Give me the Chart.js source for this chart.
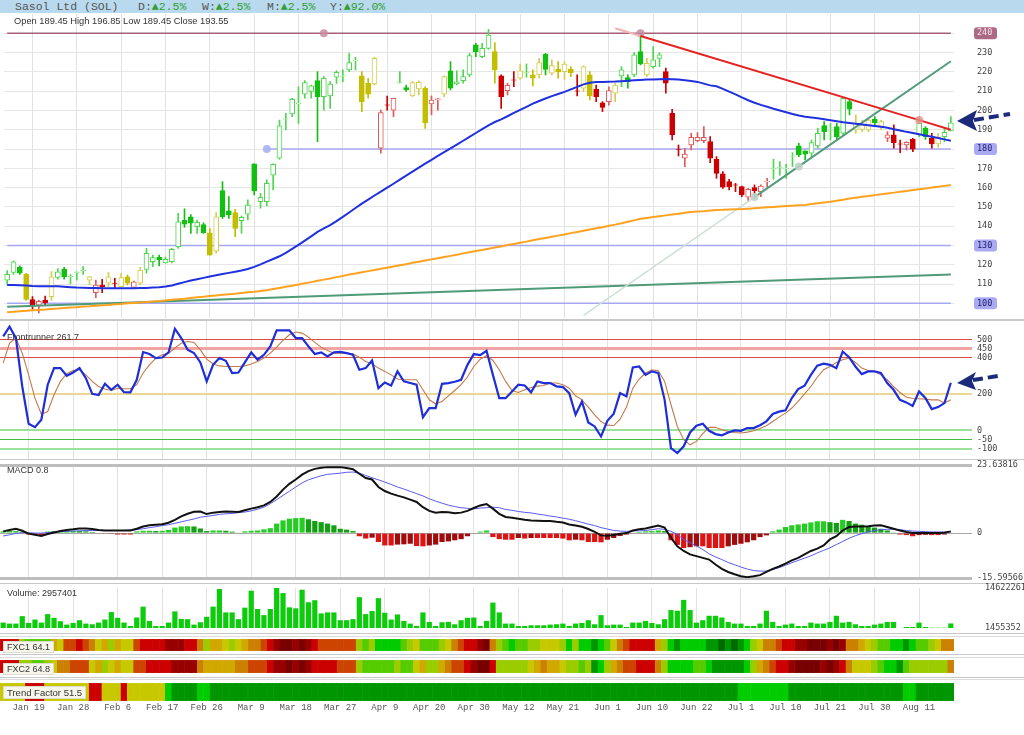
<!DOCTYPE html>
<html><head><meta charset="utf-8"><title>Sasol Ltd (SOL)</title>
<script src="https://cdn.jsdelivr.net/npm/chart.js@4.4.1/dist/chart.umd.min.js"></script>
<style>
html,body{margin:0;padding:0;background:#fff}
#wrap{position:relative;width:1024px;height:735px;overflow:hidden;font-family:"Liberation Sans",Arial,sans-serif}
#wrap canvas{position:absolute;left:0;top:0}
.hdr{position:absolute;left:0;top:0;width:1024px;height:13px;background:#b9d9ef}
.ht{position:absolute;top:0;font:11.5px/13px "Liberation Mono","DejaVu Sans Mono",monospace;color:#555;white-space:pre}
.up{color:#2f9f2f}
.lbl{position:absolute;font:9px/11px "Liberation Sans",Arial,sans-serif;color:#333;white-space:nowrap}
.box{background:#f6f6ea;border:1px solid #dcdcd0;padding:0 3px;line-height:10px}
.sep{position:absolute;left:0;width:1024px;background:#c8c8c8}
</style></head>
<body><div id="wrap">
<div class="hdr"></div>
<span class="ht" style="left:15px">Sasol Ltd (SOL)</span>
<span class="ht" style="left:138px">D:<span class="up">▲2.5%</span></span>
<span class="ht" style="left:202px">W:<span class="up">▲2.5%</span></span>
<span class="ht" style="left:267px">M:<span class="up">▲2.5%</span></span>
<span class="ht" style="left:330px">Y:<span class="up">▲92.0%</span></span>
<div class="sep" style="top:319px;height:2px"></div>
<div class="sep" style="top:459px;height:1px"></div>
<div class="sep" style="top:583px;height:1px"></div>
<div class="sep" style="top:633px;height:1px"></div>
<div class="sep" style="top:636px;height:1px;background:#dcdcdc"></div>
<div class="sep" style="top:654px;height:1px"></div>
<div class="sep" style="top:657px;height:1px;background:#dcdcdc"></div>
<div class="sep" style="top:677px;height:1px"></div>
<div class="sep" style="top:679px;height:1px;background:#dcdcdc"></div>
<canvas id="cPrice"></canvas>
<canvas id="cFR"></canvas>
<canvas id="cMACD"></canvas>
<canvas id="cVol"></canvas>
<canvas id="cF1"></canvas>
<canvas id="cF2"></canvas>
<canvas id="cTF"></canvas>
<div class="lbl" style="left:14px;top:16px;font-size:9.3px">Open 189.45 High 196.85 Low 189.45 Close 193.55</div>
<div class="lbl" style="left:7px;top:332px">Frontrunner 261.7</div>
<div class="lbl" style="left:7px;top:465px">MACD 0.8</div>
<div class="lbl" style="left:7px;top:588px">Volume: 2957401</div>
<div class="lbl box" style="left:3px;top:641px">FXC1 64.1</div>
<div class="lbl box" style="left:3px;top:663px">FXC2 64.8</div>
<div class="lbl box" style="left:3px;top:686px;font-size:9.5px;line-height:11px">Trend Factor 51.5</div>
<svg width="1024" height="735" style="position:absolute;left:0;top:0">
 <g fill="#1b2a7a"><path d="M957,121 L977,110 L973,121 L977,131 Z"/><path d="M957,383 L976,372 L972,381 L976,390 Z"/></g>
 <g stroke="#1b2a7a" stroke-width="4" stroke-dasharray="10 5" fill="none"><line x1="974" y1="120" x2="1010" y2="114"/><line x1="973" y1="380" x2="998" y2="376"/></g>
</svg>
</div>
<script>
// ---------- categories ----------
const dates = ['Jan 13','Jan 14','Jan 15','Jan 16','Jan 19','Jan 20','Jan 21','Jan 22','Jan 23','Jan 26',
'Jan 27','Jan 28','Jan 29','Jan 30','Feb 2','Feb 3','Feb 4','Feb 5','Feb 6','Feb 9',
'Feb 10','Feb 11','Feb 12','Feb 13','Feb 16','Feb 17','Feb 18','Feb 19','Feb 20','Feb 23',
'Feb 24','Feb 25','Feb 26','Feb 27','Mar 2','Mar 3','Mar 4','Mar 5','Mar 6','Mar 9',
'Mar 10','Mar 11','Mar 12','Mar 13','Mar 16','Mar 17','Mar 18','Mar 19','Mar 20','Mar 23',
'Mar 24','Mar 25','Mar 26','Mar 27','Mar 30','Mar 31','Apr 1','Apr 2','Apr 7','Apr 8',
'Apr 9','Apr 10','Apr 13','Apr 14','Apr 15','Apr 16','Apr 17','Apr 20','Apr 21','Apr 22',
'Apr 23','Apr 24','Apr 28','Apr 29','Apr 30','May 4','May 5','May 6','May 7','May 8',
'May 11','May 12','May 13','May 14','May 15','May 18','May 19','May 20','May 21','May 22',
'May 25','May 26','May 27','May 28','May 29','Jun 1','Jun 2','Jun 3','Jun 4','Jun 5',
'Jun 8','Jun 9','Jun 10','Jun 11','Jun 12','Jun 15','Jun 17','Jun 18','Jun 19','Jun 22',
'Jun 23','Jun 24','Jun 25','Jun 26','Jun 29','Jun 30','Jul 1','Jul 2','Jul 3','Jul 6',
'Jul 7','Jul 8','Jul 9','Jul 10','Jul 13','Jul 14','Jul 15','Jul 16','Jul 17','Jul 20',
'Jul 21','Jul 22','Jul 23','Jul 24','Jul 27','Jul 28','Jul 29','Jul 30','Jul 31','Aug 3',
'Aug 4','Aug 5','Aug 6','Aug 7','Aug 11','Aug 12','Aug 13','Aug 14','Aug 17','Aug 18'];
const tickLabels = ['Jan 19','Jan 28','Feb 6','Feb 17','Feb 26','Mar 9','Mar 18','Mar 27','Apr 9','Apr 20','Apr 30','May 12','May 21','Jun 1','Jun 10','Jun 22','Jul 1','Jul 10','Jul 21','Jul 30','Aug 11'];

// ---------- price ----------
const openP = [112,116,118.7,115,102,99,101.7,103.5,113.5,117.6,
113.8,116,117,112,105.5,109.5,110.4,110.5,108.7,113.8,
108.3,110.4,117.6,121.6,123.9,121,121.6,129.4,143.2,144.9,
139.8,140.8,136.6,127.1,158.4,148,147,142.9,146.2,172.3,
152.7,152.7,166.5,175.2,195.5,198.2,203.5,208.5,209.8,215.5,
207.2,207.5,217.2,217.8,221,225.7,217.9,214.1,213.7,180.4,
202.9,200.2,214.5,211.8,207.5,211.1,211.5,203.4,205.4,208.5,
220.6,213.7,215.5,218.4,234,227.9,232.2,230.5,217.9,210.3,
215.9,216.7,219.7,218.4,218.4,229.1,219.3,221.5,220.1,221.5,
210.2,211.5,218.4,211.1,204,204.6,208.9,217.9,217,218.4,
230.5,218.4,222.7,227,220.1,198.5,180,175.2,182.1,184.3,
184.3,183.8,174.7,167.1,163.1,161.5,160.5,155,160,157.9,
163,170,170.2,169.9,175.9,181.6,179,177.8,181.6,192.1,
189.8,191.6,188.2,204.6,189.9,190.2,189.9,195.4,191.3,185.6,
187.3,182.7,182.1,185,187.3,190.7,185.6,182.6,186.4,189.45];
const highP = [117,122,119.5,115.5,103.5,101.5,103.8,116.5,118,118.7,
115,116.4,119,114,112,112.5,116,113,115.5,114.7,
111.5,118.7,128.5,125,125,124,128.5,146.7,149,146,
143.2,141.8,138.8,147,163.1,155.3,148.7,145.3,153.6,172.3,
157,164,172.3,195,198.5,206.3,212.3,215.5,213.2,220.1,
217.5,215,220.6,221,229.6,227.6,220.1,216.7,227.6,200.2,
207.5,206.3,220.1,213.2,215,215.3,212.3,207.5,206.3,217.9,
225.3,220.6,221,229.6,234.8,234.8,242,235.2,218.4,214.1,
220.1,224.1,224.1,221,227,229.6,226.2,225.3,225.3,222.7,
218.4,223.1,220.1,213.2,204.6,212.3,214.1,222.7,218.4,230,
239.1,227,233.1,230,221.9,200.6,182.1,180.4,188.2,188.5,
191.6,186.4,176.1,168.3,164.3,162.2,160.8,159.6,161.4,161.4,
164.8,174.7,173.5,172.1,178.1,183,179,184.7,190.7,194.2,
193.3,193.3,206.8,205.4,197.7,195,195.9,196.8,195,189,
192.5,184.7,183.8,185.6,196.8,191.6,188.2,188.2,190.7,196.85];
const lowP = [110,115,115,101.5,97,95,99,101.5,112.5,112.5,
110,112,115,109.5,103,105.5,108.7,108,108.5,109.5,
107.8,109.5,115.6,119,119.4,120.8,121,128.5,139.4,136.3,
136.3,136.3,125,126,144,144,134.6,136.3,143.2,156.2,
149.3,150.5,158.8,174.7,189.9,196.8,193.3,206.3,206.3,183.8,
200.2,201,214,214.9,220.1,221,199.4,206.3,213.2,177.8,
200.2,196.8,214.1,209.8,207.2,208,190.7,197.7,200.2,207.2,
210.6,213.2,214.1,217.5,227.9,227.4,231.7,214.1,201.1,208,
212.3,216.1,217.2,212.7,216.7,218.4,218.4,216.7,216.1,217.5,
207.5,209.8,205.4,204.6,199.4,202.8,204.6,212.3,211.5,217.5,
223.6,217.5,221.9,222.7,208.9,184.7,176.4,170.9,179.5,183.8,
183.3,172.9,164.8,159.6,158.8,157.9,155.3,153.2,154.4,155.3,
160.2,164.3,166.5,164.8,170.9,176.1,174.3,176.1,180.4,184.7,
184.7,184.7,187.3,197.7,188.2,189,189,191.6,189.9,183.8,
180.4,178.1,179.5,178.6,186.4,185,180.4,180.9,183.8,189.45];
const closeP = [115,121.5,115.6,102,99,101,100.3,113.8,116.4,113.8,
114,116.2,117.3,113.8,109.5,108.7,113.8,110.3,113.3,110.4,
111.2,117.3,125.9,123.7,122.5,122.8,128,142.3,141.1,141.5,
142,136.6,125,144.9,144.9,145.8,138.9,144.6,151,158.3,
155,162.2,172.1,192,195.6,205.8,203.8,214.4,212.7,207.2,
216.7,213.7,219.8,218,224.8,225.9,204.6,208.5,227,198.9,
202.7,206.3,214.7,210.6,214.4,214.6,193.7,205.4,206,217.5,
211.5,214.9,217.5,228.4,230.5,232.2,239.1,221,207.2,213,
215.7,220.6,219.9,216.7,224.8,221.3,223.2,220.1,224.1,219.6,
210,222.7,207.5,207.2,201.6,210.3,213.2,221,214.9,228.8,
224.1,224.4,226.2,228.8,214.1,187.3,179.8,177.4,186.1,186.1,
186.1,175.2,167.4,160.2,160.5,161.3,156.2,159.1,158.4,160.8,
163.2,170.1,170.4,170.1,176.1,176.9,177.3,183.3,188.2,189,
190,186.4,206.3,200.6,193.3,192.5,195,193.7,194.2,187.3,
183.3,182.5,183.5,179.9,193.3,186.4,182.6,186.1,188.7,193.55];
// candle signal state per bar: G bullish, R bearish, Y neutral
const candleTone = 'GGGYRRRYGG'+'GGGYRRYRYY'+'RYGGGGGGGG'+'GGYYGGYGGG'+'GGGGGGGGGG'+'GGGGGGYYYR'+'RRGGYYYRRY'+'GGGGGGGYRR'+'RYGYYGYYYY'+'RYYRRRYGGG'+'GYGGRRRRRR'+'RRRRRRRRRR'+'RGGGGGGGGG'+'GGGGYYYGYR'+'RRRRGGRYGG';
const maBlue = [109.5,109.5,109.4,109.3,109.0,108.9,108.8,108.8,108.8,108.6,
108.4,108.2,108.1,108.0,107.9,107.8,107.8,107.8,107.8,107.8,
107.8,107.9,108.0,108.2,108.4,108.7,109.3,110.2,111.0,111.8,
112.5,113.2,113.9,114.6,115.2,115.8,116.4,117.0,117.8,118.9,
120.2,121.6,123.0,124.4,126.2,128.2,130.3,132.5,134.7,137.0,
138.8,140.6,142.6,144.8,147.1,149.4,151.7,153.8,155.9,157.9,
160.0,162.0,164.1,166.2,168.3,170.4,172.4,174.4,176.4,178.4,
180.3,182.3,184.3,186.3,188.3,190.3,192.3,194.0,195.4,197.0,
198.7,200.3,201.9,203.5,204.9,206.2,207.4,208.5,209.6,210.9,
212.2,213.5,214.4,214.7,214.8,214.9,215.0,215.2,215.4,215.6,
215.8,216.0,216.1,216.2,216.3,216.2,216.0,215.7,215.3,214.8,
213.9,213.0,212.5,211.2,209.8,208.3,206.8,205.3,204.0,202.9,
201.9,200.9,200.0,199.1,198.2,197.4,196.7,196.3,195.9,195.4,
194.9,194.4,193.9,193.5,193.1,192.7,192.3,191.9,191.5,191.0,
190.3,189.6,188.9,188.3,187.7,187.0,186.4,185.7,185.0,184.3];
const maOrange = [95.4,95.6,95.9,96.1,96.4,96.6,96.8,97.1,97.3,97.6,
97.8,98.0,98.3,98.5,98.8,99.0,99.2,99.5,99.7,100.0,
100.2,100.4,100.7,100.9,101.2,101.5,101.8,102.1,102.4,102.8,
103.1,103.4,103.8,104.1,104.4,104.7,105.0,105.4,105.7,106.0,
106.4,106.8,107.4,108.0,108.6,109.1,109.8,110.4,111.0,111.7,
112.3,112.9,113.6,114.2,114.9,115.5,116.1,116.7,117.3,117.9,
118.5,119.1,119.7,120.3,121.0,121.6,122.2,122.8,123.4,124.0,
124.6,125.2,125.9,126.5,127.1,127.7,128.3,128.9,129.5,130.2,
130.8,131.4,132.0,132.7,133.3,133.9,134.5,135.1,135.7,136.4,
137.0,137.6,138.3,138.9,139.5,140.2,140.8,141.5,142.3,143.0,
143.8,144.3,144.8,145.2,145.6,146.0,146.4,147.0,147.3,147.6,
147.8,148.1,148.4,148.5,148.7,148.8,148.9,149.1,149.3,149.5,
149.8,150.0,150.2,150.4,150.6,150.8,151.0,151.5,151.9,152.3,
152.7,153.2,153.7,154.3,154.8,155.2,155.6,156.1,156.5,157.0,
157.4,157.9,158.3,158.7,159.1,159.5,160.0,160.5,160.9,161.3];
const priceTicks = [100,110,120,130,140,150,160,170,180,190,200,210,220,230,240];
const pillValues = [240,180,130,100];
// drawn lines: [date, value] anchor points
const level240 = [['Jan 13',240],['Mar 24',240],['Jun 8',240],['Aug 18',240]];
const level180 = [['Mar 11',180],['Aug 18',180]];
const level130 = [['Jan 13',130],['Aug 18',130]];
const level100 = [['Jan 13',100],['Aug 18',100]];
const resistFaint = [['Jun 2',242.6],['Jun 8',238.6]];
const resistLine = [['Jun 8',238.6],['Aug 11',195.0],['Aug 18',190.0]];
const supportFaint = [['May 26',93.8],['Jul 3',155.1]];
const supportLine = [['Jul 3',155.1],['Jul 14',171.0],['Aug 18',225.5]];
const longTrend = [['Jan 13',98.2],['Aug 18',115.0]];
const anchorDates240 = ['Mar 24','Jun 8'];
const anchorDates180 = ['Mar 11'];
const anchorDatesResist = ['Aug 11'];
const anchorDatesSupport = ['Jul 3','Jul 14'];

// ---------- frontrunner ----------
const frLine = [516,570,506,241,37,18,59,251,342,342,
300,318,342,287,201,194,256,223,251,210,
209,278,430,419,397,400,428,558,507,443,
425,373,269,360,397,382,315,318,373,428,
388,415,461,549,549,549,507,507,461,419,
428,406,428,431,424,415,333,342,384,232,
263,247,324,269,260,251,73,123,123,256,
260,267,278,360,419,413,437,305,177,177,
214,251,247,209,269,260,260,242,238,205,
86,159,44,22,-33,53,92,205,187,346,
351,305,324,315,168,-97,-124,-87,-11,26,
37,-2,-20,-27,-11,0,-2,13,13,29,
50,90,103,110,178,227,245,305,355,366,
360,342,433,402,351,309,324,324,315,260,
223,168,154,135,214,178,117,128,150,261.7];
const frSignal = [369,479,506,424,305,177,89,104,196,269,
311,329,333,305,269,241,227,219,231,229,
229,251,315,360,397,415,424,452,479,488,
483,442,391,365,354,351,351,351,354,365,
378,397,424,457,494,525,540,534,512,483,
457,439,424,424,424,419,402,378,364,342,
324,305,282,278,278,278,223,168,146,159,
190,219,251,293,351,391,410,384,333,269,
219,208,223,236,243,247,260,260,251,232,
190,168,128,86,49,29,27,62,128,232,
282,315,333,327,269,141,22,-51,-79,-60,
-18,17,17,4,-5,-11,-14,-9,-2,11,
26,49,73,95,123,159,201,241,292,333,
351,373,388,397,373,342,329,324,305,278,
241,208,183,175,174,172,168,168,150,168];
const frLevels = [-100,-50,0,200,400,450,500];

// ---------- MACD ----------
const macdLine = [0.6,1.1,1.5,0.8,-0.2,-0.6,-1.0,-0.3,0.2,0.7,
1.1,1.3,1.6,1.6,1.4,1.1,0.9,0.9,0.9,0.9,
0.9,1.5,2.3,2.7,2.9,3.1,3.6,4.6,5.8,6.7,
7.4,7.5,6.6,7.1,7.3,7.5,7.4,7.3,7.9,8.5,
9.0,9.6,10.8,12.7,15.1,17.1,18.6,20.3,21.5,22.3,
22.7,22.9,22.9,22.9,22.6,22.2,20.6,19.1,18.6,16.0,
14.6,13.7,13.0,12.4,11.6,10.8,9.0,7.7,7.1,7.3,
7.2,6.9,7.1,7.7,8.7,9.6,10.1,8.5,6.7,5.6,
5.3,5.0,4.6,4.4,4.3,4.2,4.2,3.9,3.7,3.0,
2.6,2.2,1.4,0.4,-0.8,-0.9,-0.7,-0.2,0.0,0.9,
1.3,1.6,2.1,2.6,1.9,-1.6,-4.6,-6.2,-7.4,-8.0,
-8.6,-9.2,-10.9,-12.4,-13.5,-14.3,-15.0,-15.3,-15.0,-14.6,
-13.5,-12.4,-11.6,-10.6,-9.5,-8.6,-7.4,-6.2,-5.4,-4.3,
-2.2,-1.1,0.9,2.1,2.3,2.3,2.4,2.6,2.7,2.1,
1.5,0.9,0.4,0.0,0.0,0.0,0.0,0.0,0.1,0.6];
const macdSignal = [-1.0,-0.6,-0.1,0.1,0.1,0.0,0.0,0.2,0.4,0.5,
0.6,0.7,0.8,0.9,0.9,0.9,0.9,0.9,0.9,0.9,
1.1,1.2,1.5,1.9,2.2,2.6,2.9,3.4,3.9,4.4,
4.9,5.5,5.8,6.1,6.5,6.7,6.8,7.1,7.3,7.7,
8.3,9.0,10.2,11.6,13.1,14.5,16.0,17.4,18.5,19.2,
19.9,20.4,20.6,20.8,21.1,21.2,20.8,20.0,19.2,18.5,
17.7,16.9,16.0,15.3,14.5,13.7,12.9,11.9,11.1,10.4,
9.7,9.2,8.8,8.6,8.4,8.7,8.8,9.0,8.8,8.2,
7.9,7.5,7.2,7.0,6.6,6.3,5.9,5.6,5.2,4.8,
4.3,3.7,3.1,2.6,1.9,1.4,0.9,0.7,0.6,0.7,
0.8,0.9,1.2,1.5,1.3,0.6,-0.5,-2.2,-3.3,-4.5,
-5.7,-7.2,-8.3,-9.2,-10.2,-11.0,-11.8,-12.5,-13.0,-13.2,
-13.2,-12.7,-12.0,-11.2,-10.3,-9.5,-8.7,-7.9,-6.9,-6.0,
-5.1,-4.0,-2.9,-1.8,-0.9,-0.2,0.4,0.9,1.2,1.3,
1.3,1.2,0.9,0.7,0.6,0.5,0.4,0.4,0.4,0.4];
const macdHist = [0.6,0.7,0.7,0.4,-0.5,-0.7,-0.9,0.5,0.7,0.7,
0.8,0.8,0.7,0.6,0.4,-0.2,-0.2,-0.3,-0.5,-0.5,
-0.5,0.6,0.8,0.8,0.7,0.8,1.1,1.9,2.3,2.4,
2.3,1.6,0.7,0.9,0.9,0.8,0.5,0.2,0.6,0.8,
0.9,1.3,1.7,3.3,4.4,5.0,5.2,5.3,4.8,4.2,
3.8,3.3,2.7,1.5,1.2,0.7,-1.1,-1.9,-1.6,-3.1,
-4.3,-4.3,-4.0,-3.9,-3.7,-4.5,-4.6,-4.3,-4.0,-3.1,
-2.9,-2.5,-2.1,-1.1,-0.2,0.5,0.9,-1.4,-2.1,-2.3,
-2.3,-1.7,-1.9,-1.7,-1.7,-1.7,-1.7,-1.7,-1.9,-2.5,
-2.3,-2.5,-3.1,-3.1,-3.2,-2.3,-1.7,-1.0,-0.5,-0.2,
0.4,0.6,0.7,0.9,0.7,-2.5,-4.1,-5.2,-4.9,-4.6,
-4.6,-5.2,-5.2,-5.2,-4.6,-4.1,-3.7,-3.2,-2.5,-1.4,
-0.8,0.6,1.2,2.1,2.7,3.0,3.3,3.7,4.1,4.1,
3.8,3.5,4.6,4.2,3.3,2.9,2.4,1.9,1.5,0.9,
0.1,-0.5,-0.7,-1.1,-0.7,-0.6,-0.7,-0.7,-0.5,0.2];
const macdTicks = [-15.59566,0,23.63816];

// ---------- volume ----------
const volume = [3240000,2906000,2906000,5360000,3129000,4245000,3240000,6030000,4802000,3687000,
2571000,3129000,4021000,2906000,2682000,3240000,4245000,6699000,4802000,3240000,
2124000,4914000,8485000,3798000,2124000,2124000,3240000,6922000,4468000,4356000,
2571000,3352000,5137000,8485000,14287000,6588000,6588000,4356000,8150000,13729000,
7703000,5695000,7703000,14622261,12948000,8261000,7927000,14064000,9935000,10605000,
6253000,6588000,6588000,4021000,4021000,4356000,11609000,6030000,7034000,11274000,
6476000,4245000,5918000,3798000,2906000,2124000,6588000,3463000,2124000,3352000,
3463000,2682000,4021000,4802000,4914000,2124000,3798000,9824000,6588000,2906000,
2906000,2124000,2124000,2348000,2348000,2348000,2571000,2682000,2906000,2124000,
2906000,3129000,4021000,2682000,5695000,2348000,2571000,2571000,1790000,3240000,
3240000,3798000,3129000,2682000,4356000,7369000,7146000,10716000,7369000,3240000,
4021000,5472000,5472000,4914000,3463000,2906000,2906000,2124000,2124000,2906000,
7146000,3463000,2124000,2571000,2906000,2124000,2124000,3240000,2906000,2906000,
3463000,5472000,3240000,3463000,2682000,2124000,2124000,2571000,2906000,3463000,
3463000,1455000,1790000,1790000,3240000,1790000,1567000,1567000,1567000,2957401];
const volTicks = [1455352,14622261];

// ---------- heat strips (0 = strongest bearish ... 11 = strongest bullish) ----------
const fxc1 = [2,2,2,7,8,8,8,8,5,6, 3,3,2,3,4,6,5,7,5,6, 6,3,2,2,2,2,1,1,1,2, 2,4,7,5,5,6,7,6,5,4,
4,3,2,1,0,0,1,0,1,2, 3,3,3,3,3,3,7,8,7,9, 9,9,9,8,7,6,8,8,8,7, 6,4,3,2,2,1,0,4,7,8,
9,8,8,7,7,6,6,6,7,9, 7,9,9,10,9,8,6,4,3,2, 2,2,2,5,7,9,10,9,9,9, 9,10,10,11,10,11,10,9,7,6,
4,4,3,2,2,1,1,0,0,0, 1,0,1,4,4,5,6,7,8,8, 9,9,10,9,8,8,7,6,4,4];
const fxc2 = [2,2,2,7,7,8,8,7,6,4, 4,3,3,3,6,5,7,6,5,6, 6,3,3,2,2,2,2,1,1,1, 1,4,5,5,5,5,5,4,4,3,
3,3,2,1,1,0,1,0,1,2, 2,2,2,3,3,3,7,8,8,8, 8,8,7,8,8,6,5,7,7,5, 4,3,3,2,1,0,0,2,7,7,
7,7,7,6,5,4,5,5,6,7, 7,8,7,10,9,7,5,4,3,3, 2,2,2,4,7,9,9,9,9,8, 8,9,10,10,10,10,10,9,7,5,
4,3,2,2,1,0,0,0,0,1, 0,1,2,4,6,6,6,7,8,9, 9,10,8,7,7,7,7,7,7,4];
const trendFactor = [6,6,6,6,2,2,2,6,6,6, 6,6,6,6,2,2,6,6,6,2, 6,6,6,6,6,6,9,10,10,10, 10,9,9,10,10,10,10,10,10,10,
10,10,10,10,10,10,10,10,10,10, 10,10,10,10,10,10,10,10,10,10, 10,10,10,10,10,10,10,10,10,10, 10,10,10,10,10,10,10,10,10,10,
10,10,10,10,10,10,10,10,10,10, 10,10,10,10,10,10,10,10,10,10, 10,10,10,10,10,10,10,10,10,10, 10,10,10,10,10,10,9,9,9,9,
9,9,9,9,10,10,10,10,10,10, 10,10,10,10,10,10,10,10,10,10, 10,10,9,9,10,10,10,10,10,10];

// ================= rendering =================
Chart.defaults.animation = false;
Chart.defaults.responsive = false;
Chart.defaults.maintainAspectRatio = false;
Chart.defaults.events = [];
Chart.defaults.plugins.legend.display = false;
Chart.defaults.plugins.tooltip.enabled = false;

const W = 1024, H = 735;
const tickSet = new Set(tickLabels);
const axisFont = {family:'"DejaVu Sans Mono", monospace', size:8.5};
function cv(id){ const c = document.getElementById(id); c.width = W; c.height = H; return c; }
function zeroPad(s){ s.paddingLeft = 0; s.paddingRight = 0; s.paddingTop = 0; s.paddingBottom = 0; }
function xAxis(show){
  return {type:'category', offset:true, display:true, border:{display:false},
    grid:{offset:false, drawTicks:false, lineWidth:1,
      color: c => tickSet.has(dates[c.index]) ? '#e2e2e2' : 'rgba(0,0,0,0)'},
    ticks:{display:show, autoSkip:false, maxRotation:0, minRotation:0, padding:1,
      font:{family:'"Liberation Mono", monospace', size:9}, color:'#555',
      callback:(v,i) => tickSet.has(dates[i]) ? dates[i] : ''},
    afterFit(s){ s.height = show ? 22 : 0; zeroPad(s); }};
}
function yFit(s){ s.width = 70; zeroPad(s); }
function layout(top, bottom){ return {padding:{top:top, bottom:H-bottom, left:0, right:0}}; }
function pts(list){ return list.map(p => ({x:p[0], y:p[1]})); }
function lineDS(list, color, width, anchors, anchorColor, order){
  return {type:'line', data:pts(list), borderColor:color, borderWidth:width, order:order,
    pointRadius: c => (anchors && c.raw && anchors.includes(c.raw.x)) ? 4 : 0,
    pointBackgroundColor:anchorColor, pointBorderWidth:0, tension:0};
}

// ---- price panel ----
const toneFill = {G:'#12c012', R:'#cc0000', Y:'#c4be00'};
const toneLine = {G:'#4fd64f', R:'#e05a5a', Y:'#d2cc50'};
const isFilled = dates.map((d,i) => closeP[i] < openP[i]);
const tones = candleTone.split('');
new Chart(cv('cPrice'), {
  type:'bar',
  data:{labels:dates, datasets:[
    {type:'line', data:maBlue, borderColor:'#2030e0', borderWidth:2, pointRadius:0, order:0},
    {type:'line', data:maOrange, borderColor:'#ffa21f', borderWidth:2, pointRadius:0, order:0},
    lineDS(resistLine, '#e42222', 2, anchorDatesResist, 'rgba(236,140,140,0.8)', 0),
    lineDS(resistFaint, '#f3b3b3', 2, null, null, 0),
    lineDS(supportLine, '#529c7c', 2, anchorDatesSupport, 'rgba(190,210,200,0.9)', 0),
    lineDS(supportFaint, '#cde0d5', 1.5, null, null, 0),
    lineDS(longTrend, '#4f9a78', 2, null, null, 0),
    lineDS(level240, '#a8607c', 1.5, anchorDates240, 'rgba(200,140,160,0.85)', 3),
    lineDS(level180, '#a8a8f2', 1.5, anchorDates180, 'rgba(170,176,244,0.9)', 3),
    lineDS(level130, '#a8a8f2', 1.5, null, null, 3),
    lineDS(level100, '#a8a8f2', 1.5, null, null, 3),
    {type:'bar', grouped:false, order:1, barThickness:5, borderWidth:1, borderSkipped:false,
      data: dates.map((d,i) => [openP[i], closeP[i]]),
      backgroundColor: dates.map((d,i) => isFilled[i] ? toneFill[tones[i]] : '#ffffff'),
      borderColor: dates.map((d,i) => isFilled[i] ? toneFill[tones[i]] : toneLine[tones[i]])},
    {type:'bar', grouped:false, order:2, barThickness:1, borderWidth:0,
      data: dates.map((d,i) => [lowP[i], highP[i]]),
      backgroundColor: dates.map((d,i) => isFilled[i] ? toneFill[tones[i]] : toneLine[tones[i]])}
  ]},
  options:{layout:layout(14,318), scales:{
    x:xAxis(false),
    y:{position:'right', min:92.4, max:250, border:{display:false},
      afterBuildTicks(s){ s.ticks = priceTicks.map(v => ({value:v})); },
      grid:{color:'#e6e6e6', drawTicks:false},
      ticks:{padding:23, font:axisFont,
        color: c => c.tick.value === 240 ? '#f6e2ea' : (pillValues.includes(c.tick.value) ? '#1c1c70' : '#444'),
        callback: v => String(v)},
      afterFit:yFit}
  }},
  plugins:[{id:'pills', beforeDraw(chart){
    const y = chart.scales.y, ctx = chart.ctx;
    pillValues.forEach(v => {
      const py = y.getPixelForValue(v);
      ctx.save();
      ctx.fillStyle = v === 240 ? '#ad6a84' : '#aaaaf2';
      ctx.beginPath();
      ctx.roundRect(974, py - 6, 23, 12, 3);
      ctx.fill();
      ctx.restore();
    });
  }}]
});

// ---- frontrunner panel ----
const frStyle = {'500':['#dd4848',1], '450':['#f2a4a4',3], '400':['#dd4848',1], '200':['#ead894',2], '0':['#9ae29a',2], '-50':['#44bb44',1], '-100':['#9ae29a',2]};
new Chart(cv('cFR'), {
  type:'line',
  data:{labels:dates, datasets:[
    {data:frLine, borderColor:'#1e2ed8', borderWidth:2.2, pointRadius:0, order:0},
    {data:frSignal, borderColor:'#c27a4c', borderWidth:1.1, pointRadius:0, order:1}
  ]},
  options:{layout:layout(321,459), scales:{
    x:xAxis(false),
    y:{position:'right', min:-156.6, max:600.4, border:{display:false},
      afterBuildTicks(s){ s.ticks = frLevels.map(v => ({value:v})); },
      grid:{drawTicks:true, tickLength:18,
        color: c => (frStyle[String(c.tick.value)] || ['#ddd'])[0],
        lineWidth: c => (frStyle[String(c.tick.value)] || [0,1])[1]},
      ticks:{padding:5, font:axisFont, color:'#444', callback: v => String(v)},
      afterFit:yFit}
  }}
});

// ---- MACD panel ----
const histColors = macdHist.map((v,i) => {
  const p = i ? macdHist[i-1] : v;
  if (v >= 0) return v >= p ? '#24cc24' : '#13a013';
  return v <= p ? '#dd1414' : '#a00c0c';
});
new Chart(cv('cMACD'), {
  type:'bar',
  data:{labels:dates, datasets:[
    {type:'line', data:macdLine, borderColor:'#111111', borderWidth:2, pointRadius:0, order:0},
    {type:'line', data:macdSignal, borderColor:'#5a5af0', borderWidth:1, pointRadius:0, order:1},
    {type:'bar', data:macdHist, backgroundColor:histColors, barPercentage:0.82, categoryPercentage:1, order:2}
  ]},
  options:{layout:layout(465,578), scales:{
    x:xAxis(false),
    y:{position:'right', min:macdTicks[0], max:macdTicks[2], border:{display:false},
      afterBuildTicks(s){ s.ticks = macdTicks.map(v => ({value:v})); },
      grid:{drawTicks:true, tickLength:18,
        color: c => c.tick.value === 0 ? '#a8a8a8' : '#bdbdbd',
        lineWidth: c => c.tick.value === 0 ? 1 : 3},
      ticks:{padding:5, font:axisFont, color:'#444', callback: v => String(v)},
      afterFit:yFit}
  }}
});

// ---- volume panel ----
new Chart(cv('cVol'), {
  type:'bar',
  data:{labels:dates, datasets:[
    {data:volume, backgroundColor:'#0ccc0c', barPercentage:0.82, categoryPercentage:1}
  ]},
  options:{layout:layout(588,628), scales:{
    x:xAxis(false),
    y:{position:'right', min:volTicks[0], max:volTicks[1], border:{display:false},
      afterBuildTicks(s){ s.ticks = volTicks.map(v => ({value:v})); },
      grid:{display:false},
      ticks:{padding:23, font:axisFont, color:'#444', callback: v => String(v)},
      afterFit:yFit}
  }}
});

// ---- heat strips ----
const heatPalette = ['#780000','#980000','#cc0000','#cc4400','#cc8000','#d0a800','#c8c800','#9acc00','#55cc00','#00cc00','#009600','#006a00'];
function heat(id, levels, top, bottom, showX){
  const cols = levels.map(v => heatPalette[v]);
  new Chart(cv(id), {
    type:'bar',
    data:{labels:dates, datasets:[
      {data: levels.map(() => [0,1]), backgroundColor:cols, borderColor:cols, borderWidth:0.5, borderSkipped:false,
        barPercentage:1, categoryPercentage:1}
    ]},
    options:{layout:layout(top, bottom), scales:{
      x:xAxis(showX),
      y:{position:'right', min:0, max:1, border:{display:false}, grid:{display:false}, ticks:{display:false}, afterFit:yFit}
    }}
  });
}
heat('cF1', fxc1, 639, 651, false);
heat('cF2', fxc2, 660, 673, false);
heat('cTF', trendFactor, 683, 723, true);
</script>
</body></html>
